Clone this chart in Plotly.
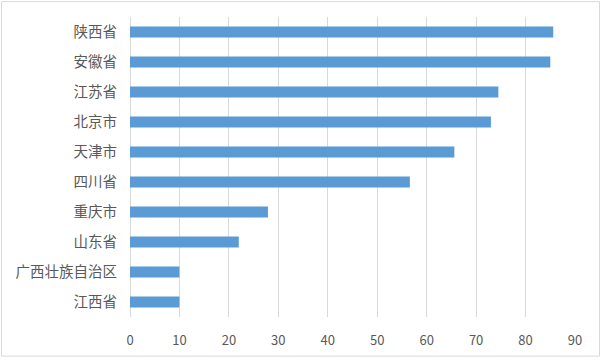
import plotly.graph_objects as go

categories = ["陕西省", "安徽省", "江苏省", "北京市", "天津市", "四川省", "重庆市", "山东省", "广西壮族自治区", "江西省"]
values = [85.6, 85.0, 74.5, 73.0, 65.6, 56.6, 27.9, 22.0, 10.0, 10.0]
x_ticks = [0, 10, 20, 30, 40, 50, 60, 70, 80, 90]

W, H = 601, 361
ml, mr, mt, mb = 130, 26, 17, 41
pw, ph = W - ml - mr, H - mt - mb

fig = go.Figure(go.Bar(
    x=values, y=categories, orientation="h",
    marker=dict(color="#5b9bd5", line=dict(width=0)),
    width=0.36,
))

def px(xp):
    return (xp - ml) / pw

def py(yp):
    return 1 - (yp - mt) / ph

fig.add_shape(type="rect", xref="paper", yref="paper",
              x0=px(1.5), x1=px(599.5), y0=py(359.5), y1=py(1.5),
              line=dict(color="#d9d9d9", width=1), layer="below")

fig.update_layout(
    width=W, height=H,
    margin=dict(l=ml, r=mr, t=mt, b=mb),
    paper_bgcolor="white", plot_bgcolor="white",
    showlegend=False,
    font=dict(family="Noto Sans CJK SC, Noto Sans, sans-serif", size=12, color="#595959"),
    xaxis=dict(range=[0, 90], tickvals=x_ticks, showgrid=True, gridcolor="#d9d9d9",
               gridwidth=1, zeroline=True, zerolinecolor="#d9d9d9", zerolinewidth=1,
               showline=False, ticks="outside", ticklen=11, tickcolor="rgba(0,0,0,0)",
               tickfont=dict(size=13, color="#595959")),
    yaxis=dict(autorange="reversed", showgrid=False, ticks="", showline=False,
               ticklabelstandoff=12, tickfont=dict(size=14.5, color="#595959")),
)

fig.write_html("out.html")
